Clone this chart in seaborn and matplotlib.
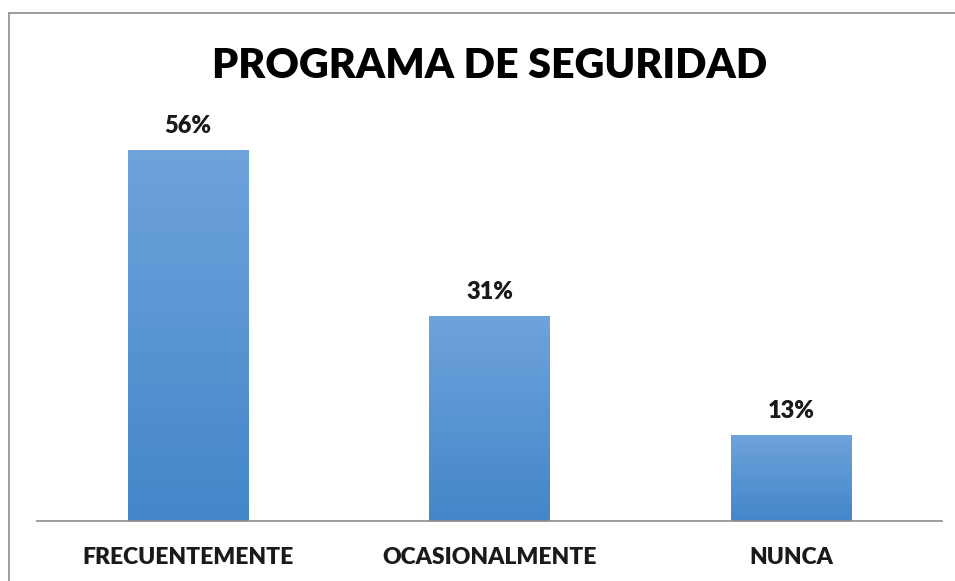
import numpy as np
import pandas as pd
import matplotlib
matplotlib.use("Agg")
import matplotlib.pyplot as plt
from matplotlib.lines import Line2D
import seaborn as sb

categorias = ["FRECUENTEMENTE", "OCASIONALMENTE", "NUNCA"]
porcentajes = [56, 31, 13]
etiquetas = ["56%", "31%", "13%"]
titulo = "PROGRAMA DE SEGURIDAD"

sb.set_style("white")
plt.rcParams['font.family'] = ['Lato', 'DejaVu Sans']

df = pd.DataFrame({"cat": categorias, "val": porcentajes})

fig = plt.figure(figsize=(9.55, 5.81), dpi=100)
ax = fig.add_axes([37 / 955, 60 / 581, 905 / 955, 397 / 581])
sb.barplot(data=df, x="cat", y="val", color="#5b9bd5", width=0.4, ax=ax,
           saturation=1)
ax.set_ylim(0, 60)
ax.set_xlim(-0.5, 2.5)

# gradient fill over each bar: lighter at top, darker at base
grad = np.linspace(0, 1, 256).reshape(-1, 1)
cmap = matplotlib.colors.LinearSegmentedColormap.from_list(
    "g", ["#4386c8", "#6fa3dc"])
for p in ax.patches:
    x0, y0 = p.get_x(), p.get_y()
    w, h = p.get_width(), p.get_height()
    im = ax.imshow(grad, extent=[x0, x0 + w, y0, y0 + h], origin="lower",
                   aspect="auto", cmap=cmap, zorder=p.get_zorder() + 0.1)
    im.set_clip_path(p)

for p, lab in zip(ax.patches, etiquetas):
    ax.text(p.get_x() + p.get_width() / 2, p.get_height() + 2.0, lab,
            ha="center", va="bottom", fontsize=17, fontweight="heavy",
            color="#1a1a1a")

ax.set_xlabel("")
ax.set_ylabel("")
ax.set_yticks([])
ax.tick_params(axis="x", length=0, pad=19)
for t in ax.get_xticklabels():
    t.set_fontsize(16.5)
    t.set_fontweight("heavy")
    t.set_color("#1a1a1a")
for s in ["top", "right", "left"]:
    ax.spines[s].set_visible(False)
ax.spines["bottom"].set_color("#8c8c8c")
ax.spines["bottom"].set_linewidth(1.2)

fig.text(490 / 955, 1 - 66 / 581, titulo, ha="center", va="center",
         fontsize=29.7, fontweight="heavy", color="black")

# outer frame (top and left edges)
fig.add_artist(Line2D([9 / 955, 1], [1 - 13 / 581, 1 - 13 / 581],
                      color="#8c8c8c", lw=1.2, transform=fig.transFigure))
fig.add_artist(Line2D([9 / 955, 9 / 955], [0, 1 - 13 / 581],
                      color="#8c8c8c", lw=1.2, transform=fig.transFigure))

fig.savefig("out.png", dpi=100)
